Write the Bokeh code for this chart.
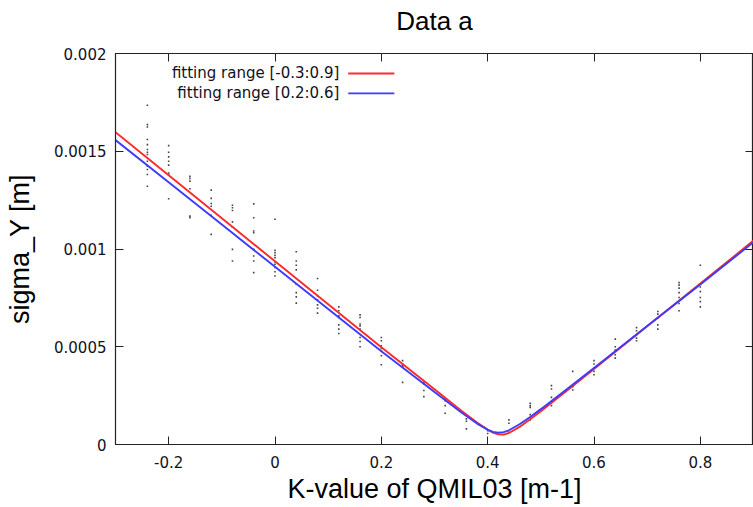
from bokeh.plotting import figure
from bokeh.models import LinearAxis, FixedTicker, Label, Range1d
from bokeh.embed import file_html
from bokeh.resources import INLINE

# ---------------- data ----------------
title_text = "Data a"
x_label = "K-value of QMIL03 [m-1]"
y_label = "sigma_Y [m]"

x_ticks = [-0.2, 0.0, 0.2, 0.4, 0.6, 0.8]
x_tick_labels = ["-0.2", "0", "0.2", "0.4", "0.6", "0.8"]
y_ticks = [0.0, 0.0005, 0.001, 0.0015, 0.002]
y_tick_labels = ["0", "0.0005", "0.001", "0.0015", "0.002"]

# measured beam size: K-value columns and the sigma readings in each column
meas_k = [-0.24, -0.20, -0.16, -0.12, -0.08, -0.04, 0.00, 0.04, 0.08, 0.12,
          0.16, 0.20, 0.24, 0.28, 0.32, 0.36, 0.40, 0.44, 0.48, 0.52,
          0.56, 0.60, 0.64, 0.68, 0.72, 0.76, 0.80]
meas_sigma = [
    [0.001735, 0.001636, 0.001624, 0.001560, 0.001534, 0.001509, 0.001495,
     0.001483, 0.001449, 0.001423, 0.001407, 0.001381, 0.001321],
    [0.001529, 0.001495, 0.001471, 0.001449, 0.001429, 0.001389, 0.001381, 0.001257],
    [0.001372, 0.001361, 0.001347, 0.001308, 0.001168, 0.001160],
    [0.001301, 0.001259, 0.001233, 0.001219, 0.001173, 0.001075],
    [0.001224, 0.001211, 0.001197, 0.001139, 0.001112, 0.000998, 0.000939],
    [0.001231, 0.001160, 0.001092, 0.001083, 0.000998, 0.000964, 0.000939, 0.000879],
    [0.001152, 0.000993, 0.000981, 0.000968, 0.000956, 0.000934, 0.000922,
     0.000905, 0.000884, 0.000862],
    [0.000986, 0.000939, 0.000917, 0.000893, 0.000820, 0.000777, 0.000755, 0.000723],
    [0.000849, 0.000789, 0.000760, 0.000740, 0.000714, 0.000697, 0.000672],
    [0.000704, 0.000684, 0.000658, 0.000650, 0.000612, 0.000590, 0.000568],
    [0.000663, 0.000650, 0.000616, 0.000607, 0.000590, 0.000547, 0.000527, 0.000500],
    [0.000547, 0.000531, 0.000505, 0.000493, 0.000480, 0.000454, 0.000408],
    [0.000429, 0.000413, 0.000403, 0.000398, 0.000318],
    [0.000318, 0.000310, 0.000276, 0.000245],
    [0.000233, 0.000224, 0.000199, 0.000160],
    [0.000148, 0.000131, 0.000119, 0.000080],
    [0.000071, 0.000056],
    [0.000126, 0.000109, 0.000063],
    [0.000211, 0.000199, 0.000190, 0.000153, 0.000126],
    [0.000301, 0.000284, 0.000241, 0.000216, 0.000199],
    [0.000374, 0.000296, 0.000279],
    [0.000429, 0.000412, 0.000391, 0.000374, 0.000357],
    [0.000539, 0.000500, 0.000483, 0.000459, 0.000442],
    [0.000598, 0.000582, 0.000561, 0.000544, 0.000531],
    [0.000680, 0.000667, 0.000646, 0.000612, 0.000590],
    [0.000828, 0.000815, 0.000800, 0.000777, 0.000752, 0.000735, 0.000721, 0.000684],
    [0.000917, 0.000806, 0.000782, 0.000752, 0.000731, 0.000704],
]

# fitted curves
fit_k = [-0.30, -0.20, -0.10, 0.00, 0.10, 0.20, 0.30, 0.35, 0.38, 0.40, 0.41,
         0.42, 0.43, 0.44, 0.46, 0.48, 0.50, 0.55, 0.60, 0.70, 0.80, 0.90]
fit_red = [0.001597, 0.001377, 0.001157, 0.000937, 0.000717, 0.000497, 0.000282,
           0.0001745, 0.0001129, 0.0000760, 0.0000611, 0.0000517, 0.0000508,
           0.0000587, 0.0000900, 0.0001289, 0.0001703, 0.0002773, 0.000386,
           0.000605, 0.000823, 0.001043]
fit_blue = [0.001557, 0.001341, 0.001125, 0.000909, 0.000693, 0.000477, 0.000268,
            0.0001647, 0.0001070, 0.0000752, 0.0000645, 0.0000600, 0.0000631,
            0.0000727, 0.0001034, 0.0001409, 0.0001809, 0.000285, 0.000391,
            0.000606, 0.000819, 0.001035]

series_names = ["fitting range [-0.3:0.9]", "fitting range [0.2:0.6]"]
series_colors = ["#ff2a2a", "#3c3cff"]

# ---------------- figure ----------------
TICK_FONT = "DejaVu Sans"
BIG_FONT = "Liberation Sans"

p = figure(width=753, height=507, output_backend="svg", toolbar_location=None,
           x_range=Range1d(-0.3, 0.9), y_range=Range1d(0, 0.002),
           min_border_left=115, min_border_right=0, min_border_top=53,
           min_border_bottom=63)
p.background_fill_color = "white"
p.border_fill_color = "white"
p.outline_line_color = "#222222"
p.outline_line_width = 1.2
p.xgrid.visible = False
p.ygrid.visible = False

xt = FixedTicker(ticks=x_ticks)
yt = FixedTicker(ticks=y_ticks)

xa = p.xaxis[0]
xa.ticker = xt
xa.major_label_overrides = {t: l for t, l in zip(x_ticks, x_tick_labels)}
ya = p.yaxis[0]
ya.ticker = yt
ya.major_label_overrides = {t: l for t, l in zip(y_ticks, y_tick_labels)}

for ax in (xa, ya):
    ax.major_tick_in = 8
    ax.major_tick_out = 0
    ax.minor_tick_line_color = None
    ax.axis_line_color = "#222222"
    ax.major_tick_line_color = "#222222"
    ax.major_label_text_font = TICK_FONT
    ax.major_label_text_font_size = "15px"
    ax.major_label_text_color = "#111122"
    ax.axis_label_text_font = BIG_FONT
    ax.axis_label_text_font_size = "27px"
    ax.axis_label_text_font_style = "normal"
    ax.axis_label_text_color = "black"

xa.axis_label = x_label
xa.major_label_standoff = 11
xa.axis_label_standoff = 3
ya.axis_label = y_label
ya.major_label_standoff = 9
ya.axis_label_standoff = 16

# mirrored ticks on top and right (tick labels not drawn); the top one
# carries the chart title as its axis label, centred over the frame
mirror_kw = dict(major_label_text_font_size="0px", major_label_text_color=None,
                 major_tick_in=8, major_tick_out=0, minor_tick_line_color=None,
                 major_label_standoff=0, axis_line_color="#222222",
                 major_tick_line_color="#222222")
top_ax = LinearAxis(ticker=FixedTicker(ticks=x_ticks), axis_label=title_text,
                    axis_label_text_font=BIG_FONT, axis_label_text_font_size="26px",
                    axis_label_text_font_style="normal", axis_label_text_color="black",
                    axis_label_standoff=18, **mirror_kw)
right_ax = LinearAxis(ticker=FixedTicker(ticks=y_ticks), **mirror_kw)
p.add_layout(top_ax, "above")
p.add_layout(right_ax, "right")

# measured dots
dk, ds = [], []
for k, col in zip(meas_k, meas_sigma):
    for s in col:
        dk.append(k)
        ds.append(s)
p.scatter(x=dk, y=ds, marker="square", size=1.6, fill_color="#444444",
          line_color=None)

# fitted curves
p.line(fit_k, fit_red, line_color=series_colors[0], line_width=1.9)
p.line(fit_k, fit_blue, line_color=series_colors[1], line_width=1.9)

# legend: text right-aligned, sample line to the right (gnuplot style)
leg_text_x = 0.121
leg_line_x = [0.1377, 0.2245]
leg_y = [0.001898, 0.001796]
for name, color, yy in zip(series_names, series_colors, leg_y):
    p.line(leg_line_x, [yy, yy], line_color=color, line_width=1.9)
    p.add_layout(Label(x=leg_text_x, y=yy, text=name, text_align="right",
                       text_baseline="middle", text_font=TICK_FONT,
                       text_font_size="15px", text_color="#111122"))

open("out.html", "w").write(file_html(p, INLINE))
